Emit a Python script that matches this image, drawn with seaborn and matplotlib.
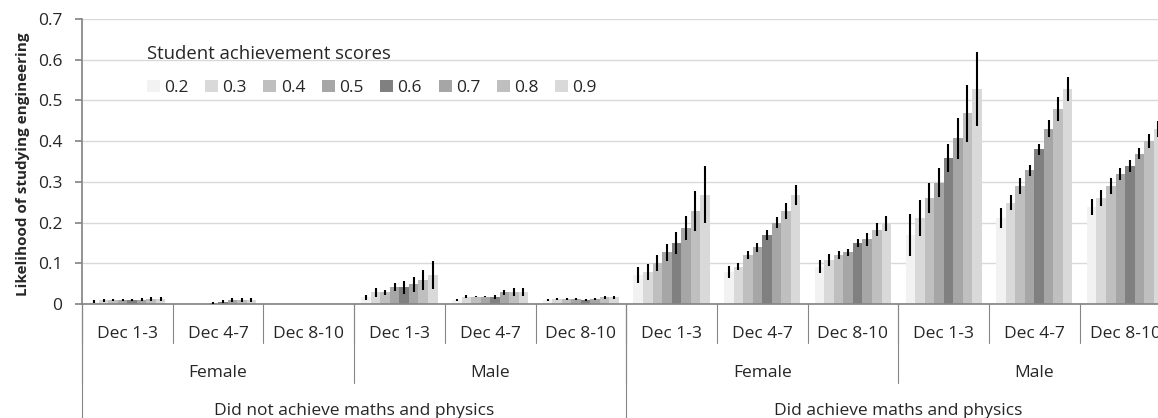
import numpy as np
import pandas as pd
import seaborn as sns
import matplotlib.pyplot as plt
from matplotlib import transforms

deciles = ["Dec 1-3", "Dec 4-7", "Dec 8-10"]
genders = ["Female", "Male"]
outcomes = ["Did not achieve maths and physics", "Did achieve maths and physics"]
scores = ["0.2", "0.3", "0.4", "0.5", "0.6", "0.7", "0.8", "0.9"]
colors = ["#F2F2F2", "#D9D9D9", "#BFBFBF", "#A6A6A6", "#808080", "#A6A6A6", "#BFBFBF", "#D9D9D9"]

# one row per decile band, one value per achievement score
not_female = [[0.006, 0.009, 0.010, 0.010, 0.010, 0.011, 0.012, 0.012],
              [0.001, 0.001, 0.001, 0.002, 0.006, 0.010, 0.010, 0.010],
              [0.001, 0.001, 0.001, 0.001, 0.001, 0.001, 0.001, 0.001]]
not_female_err = [[0.004, 0.004, 0.002, 0.002, 0.002, 0.004, 0.004, 0.004],
                  [0.000, 0.000, 0.000, 0.004, 0.004, 0.004, 0.004, 0.004],
                  [0.000, 0.000, 0.000, 0.000, 0.000, 0.000, 0.000, 0.000]]
not_male = [[0.016, 0.029, 0.029, 0.041, 0.041, 0.048, 0.059, 0.071],
            [0.010, 0.018, 0.018, 0.018, 0.018, 0.029, 0.029, 0.029],
            [0.010, 0.012, 0.012, 0.012, 0.010, 0.012, 0.016, 0.016]]
not_male_err = [[0.005, 0.011, 0.006, 0.010, 0.016, 0.019, 0.025, 0.035],
                [0.003, 0.003, 0.002, 0.002, 0.005, 0.006, 0.010, 0.010],
                [0.003, 0.003, 0.003, 0.003, 0.003, 0.003, 0.003, 0.003]]
did_female = [[0.071, 0.079, 0.100, 0.127, 0.150, 0.187, 0.229, 0.268],
              [0.079, 0.092, 0.120, 0.139, 0.170, 0.200, 0.229, 0.268],
              [0.092, 0.108, 0.120, 0.127, 0.150, 0.159, 0.182, 0.198]]
did_female_err = [[0.020, 0.019, 0.020, 0.021, 0.027, 0.030, 0.049, 0.070],
                  [0.014, 0.009, 0.010, 0.011, 0.012, 0.014, 0.019, 0.025],
                  [0.015, 0.015, 0.010, 0.009, 0.009, 0.016, 0.016, 0.018]]
did_male = [[0.170, 0.211, 0.260, 0.298, 0.358, 0.407, 0.468, 0.528],
            [0.211, 0.249, 0.290, 0.328, 0.380, 0.431, 0.479, 0.528],
            [0.238, 0.260, 0.290, 0.319, 0.339, 0.369, 0.400, 0.430]]
did_male_err = [[0.051, 0.045, 0.036, 0.036, 0.034, 0.051, 0.070, 0.091],
                [0.025, 0.018, 0.020, 0.014, 0.014, 0.020, 0.030, 0.030],
                [0.020, 0.020, 0.020, 0.014, 0.014, 0.014, 0.018, 0.020]]

panels = [(outcomes[0], genders[0], not_female, not_female_err),
          (outcomes[0], genders[1], not_male, not_male_err),
          (outcomes[1], genders[0], did_female, did_female_err),
          (outcomes[1], genders[1], did_male, did_male_err)]

rows = []
for out, gen, vals, errs in panels:
    for d, dec in enumerate(deciles):
        for s, sc in enumerate(scores):
            rows.append({"slot": f"{out}|{gen}|{dec}", "score": sc,
                         "value": vals[d][s], "err": errs[d][s]})
df = pd.DataFrame(rows)
order = list(dict.fromkeys(df["slot"]))

sns.set_theme(style="white")
plt.rcParams['font.family'] = ['Open Sans', 'DejaVu Sans']

fig = plt.figure(figsize=(11.58, 4.18), dpi=100)
# axes runs past the right edge on purpose, the last group is cut off
ax = fig.add_axes([82 / 1158, 114 / 418, 1088.4 / 1158, 285 / 418])
sns.barplot(data=df, x="slot", y="value", hue="score", order=order, hue_order=scores,
            palette=colors, width=0.84, errorbar=None, saturation=1, linewidth=0, ax=ax)
handles, labels = ax.get_legend_handles_labels()

for container, sc in zip(ax.containers, scores):
    sub = df[df["score"] == sc].set_index("slot").loc[order]
    xs = [b.get_x() + b.get_width() / 2 for b in container]
    ax.errorbar(xs, sub["value"], yerr=sub["err"], fmt="none", ecolor="black",
                elinewidth=1.5, capsize=0, zorder=3)

ax.set_ylim(0, 0.7)
ax.set_yticks(np.arange(0, 0.71, 0.1))
ax.set_yticklabels(["0"] + [f"{v:.1f}" for v in np.arange(0.1, 0.71, 0.1)])
ax.yaxis.grid(True, color="#D9D9D9", lw=1)
ax.set_axisbelow(True)
ax.set_xticks([])
ax.set_xlabel("")
ax.set_ylabel("Likelihood of studying engineering", fontweight="bold", fontsize=11)
ax.yaxis.set_label_coords(-0.048, 0.49)
ax.tick_params(axis="y", left=True, length=5, color="#868686", labelsize=12.5, pad=9)
for side in ["top", "right"]:
    ax.spines[side].set_visible(False)
for side in ["left", "bottom"]:
    ax.spines[side].set_color("#868686")

# hierarchical category axis
trans = transforms.blended_transform_factory(ax.transData, ax.transAxes)
lc = "#868686"
for k in range(13):
    ax.plot([k - 0.5, k - 0.5], [0, -0.137], color=lc, lw=0.8, transform=trans, clip_on=False)
for k in [-0.5, 2.5, 5.5, 8.5, 11.5]:
    ax.plot([k, k], [0, -0.277], color=lc, lw=0.8, transform=trans, clip_on=False)
for k in [-0.5, 5.5, 11.5]:
    ax.plot([k, k], [0, -0.5], color=lc, lw=0.8, transform=trans, clip_on=False)
for i, dec in enumerate(deciles * 4):
    ax.text(i, -0.119, dec, ha="center", va="baseline", transform=trans, fontsize=12.5)
for j, gen in enumerate(genders * 2):
    ax.text(3 * j + 1, -0.256, gen, ha="center", va="baseline", transform=trans, fontsize=12.5)
for j, out in enumerate(outcomes):
    ax.text(6 * j + 2.5, -0.390, out, ha="center", va="baseline", transform=trans, fontsize=12.5)
ax.set_xlim(-0.5, 11.5)

ax.legend(handles, labels, title="Student achievement scores", ncol=8, frameon=False,
          loc="upper left", bbox_to_anchor=(0.0515, 0.94), handlelength=0.75, handleheight=0.7,
          handletextpad=0.25, columnspacing=0.95, fontsize=12.5, title_fontsize=13.3,
          alignment="left", borderpad=0, labelspacing=1.0)

fig.savefig("out.png", dpi=100)
